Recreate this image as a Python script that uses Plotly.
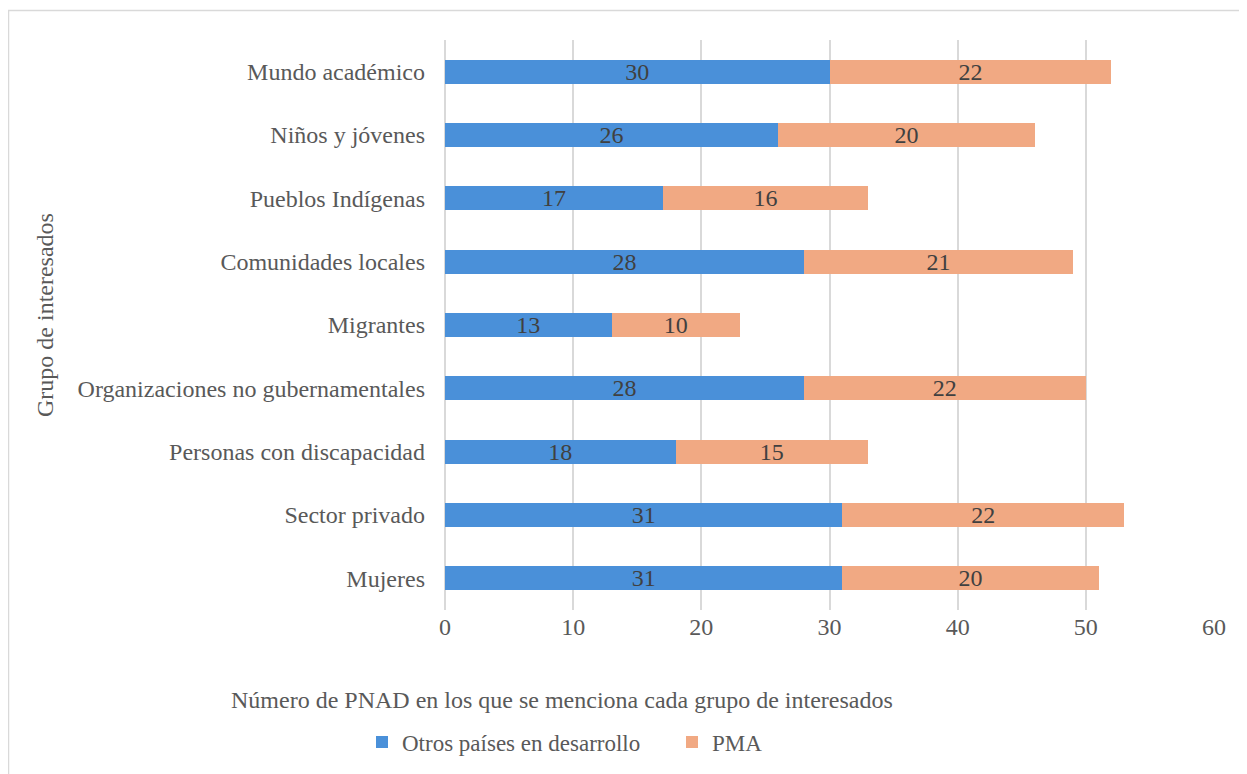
import plotly.graph_objects as go

categories = ['Mujeres', 'Sector privado', 'Personas con discapacidad',
              'Organizaciones no gubernamentales', 'Migrantes',
              'Comunidades locales', 'Pueblos Indígenas', 'Niños y jóvenes',
              'Mundo académico']
otros = [31, 31, 18, 28, 13, 28, 17, 26, 30]
pma = [20, 22, 15, 22, 10, 21, 16, 20, 22]

FONT = 'Liberation Serif'
GREY = '#595959'
FS = 24

# page offset of the body margin
OFF = 8
# plot area in page pixels
L, R, T, B = 445 - OFF, 1214 - OFF, 40 - OFF, 610 - OFF
W, H = 1247 - OFF, 774 - OFF


def px(x):
    return (x - OFF - L) / (R - L)


def py(y):
    return (B - (y - OFF)) / (B - T)


fig = go.Figure()
fig.add_trace(go.Bar(y=categories, x=otros, orientation='h', name='Otros países en desarrollo',
                     marker=dict(color='#4A90D9', line=dict(width=0)),
                     text=otros, textposition='inside', insidetextanchor='middle', textangle=0,
                     textfont=dict(family=FONT, size=FS, color='#404040'), width=0.38,
                     legend='legend'))
fig.add_trace(go.Bar(y=categories, x=pma, orientation='h', name='PMA',
                     marker=dict(color='#F1A983', line=dict(width=0)),
                     text=pma, textposition='inside', insidetextanchor='middle', textangle=0,
                     textfont=dict(family=FONT, size=FS, color='#404040'), width=0.38,
                     legend='legend2'))

legend_style = dict(orientation='h', xanchor='left', yanchor='middle',
                    font=dict(family=FONT, size=23, color=GREY),
                    itemwidth=30, bgcolor='rgba(0,0,0,0)')

fig.update_layout(
    barmode='stack',
    width=W, height=H,
    margin=dict(l=L, r=W - R, t=T, b=H - B, autoexpand=False),
    paper_bgcolor='white', plot_bgcolor='white',
    font=dict(family=FONT, size=FS, color=GREY),
    uniformtext=dict(mode='show', minsize=FS),
    xaxis=dict(range=[0, 60], dtick=10, showgrid=True, gridcolor='#D9D9D9', gridwidth=2,
               zeroline=True, zerolinecolor='#D9D9D9', zerolinewidth=2,
               ticks='', tickfont=dict(family=FONT, size=FS, color=GREY), fixedrange=True),
    yaxis=dict(categoryorder='array', categoryarray=categories, ticks='', automargin=False,
               ticklabelstandoff=19, tickfont=dict(family=FONT, size=FS, color=GREY),
               showgrid=False),
    showlegend=True,
    legend=dict(x=px(376 - 14), y=py(742), **legend_style),
    legend2=dict(x=px(686 - 14), y=py(742), **legend_style),
    annotations=[
        dict(text='Número de PNAD en los que se menciona cada grupo de interesados',
             xref='paper', yref='paper', x=px(562), y=py(700), showarrow=False,
             xanchor='center', yanchor='middle', font=dict(family=FONT, size=FS, color=GREY)),
        dict(text='Grupo de interesados', xref='paper', yref='paper', x=px(45), y=py(315),
             showarrow=False, textangle=-90, xanchor='center', yanchor='middle',
             font=dict(family=FONT, size=FS, color=GREY)),
    ],
    shapes=[
        dict(type='rect', xref='paper', yref='paper', x0=px(8.5), x1=px(1270), y0=py(10.5),
             y1=py(800), line=dict(color='#D9D9D9', width=1.5), fillcolor='rgba(0,0,0,0)',
             layer='below'),
    ],
)

fig.write_html('out.html')
